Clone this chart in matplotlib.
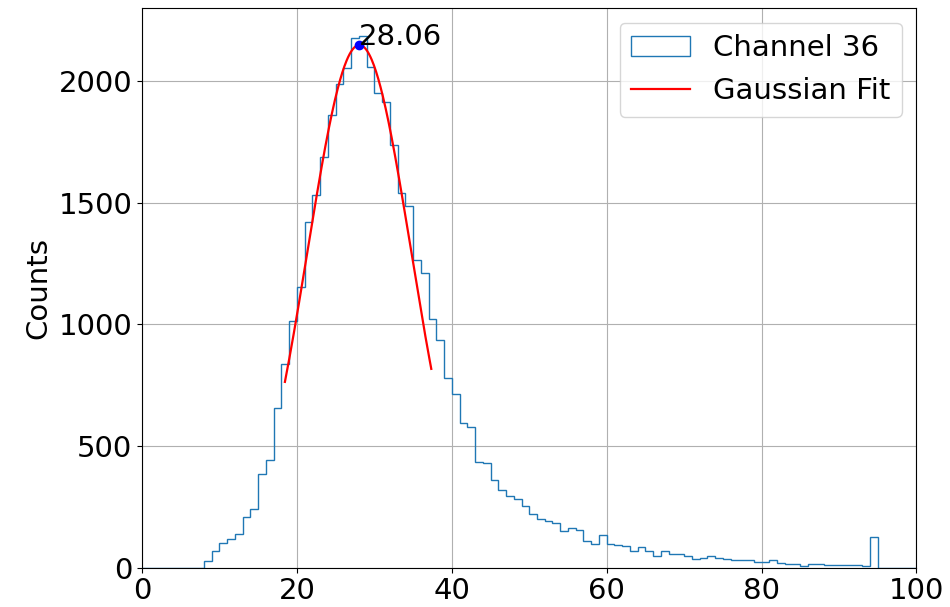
import numpy as np
import matplotlib
matplotlib.use("Agg")
import matplotlib.pyplot as plt

# histogram of channel 36, unit-width bins from 0 to 100
bin_edges = list(range(0, 101))
counts = [
    0, 0, 0, 0, 0, 0, 0, 0, 26, 68,
    100, 118, 137, 207, 242, 386, 443, 656, 838, 1012,
    1152, 1420, 1530, 1687, 1860, 1989, 2053, 2175, 2187, 2057,
    1950, 1915, 1736, 1541, 1487, 1263, 1209, 1021, 934, 780,
    712, 596, 577, 432, 428, 359, 318, 295, 281, 254,
    220, 199, 193, 184, 150, 161, 154, 111, 97, 134,
    96, 92, 90, 70, 86, 66, 48, 69, 56, 54,
    48, 37, 40, 48, 40, 36, 33, 30, 29, 23,
    23, 29, 18, 16, 14, 7, 16, 14, 12, 11,
    11, 10, 10, 8, 124, 0, 0, 0, 0, 0,
]

# gaussian fit parameters
fit_amp = 2148
fit_mu = 28.06
fit_sigma = 6.68
fit_lo = 18.45
fit_hi = 37.35

fig = plt.figure(figsize=(9.5, 6.07), dpi=100)
ax = fig.add_subplot(111)
fig.subplots_adjust(left=0.1495, right=0.9647, top=0.9868, bottom=0.065)

ax.hist(bin_edges[:-1], bins=bin_edges, weights=counts, histtype='step',
        linewidth=1.0, label='Channel 36')

xf = np.linspace(fit_lo, fit_hi, 200)
yf = fit_amp * np.exp(-(xf - fit_mu) ** 2 / (2 * fit_sigma ** 2))
ax.plot(xf, yf, 'r-', linewidth=1.6, label='Gaussian Fit')

ax.plot(fit_mu, fit_amp, 'bo', markersize=6)
ax.text(fit_mu, fit_amp, '%.2f' % fit_mu, fontsize=21)

ax.set_xlim(0, 100)
ax.set_ylim(0, 2300)
ax.set_xticks([0, 20, 40, 60, 80, 100])
ax.set_yticks([0, 500, 1000, 1500, 2000])
ax.tick_params(labelsize=21)
ax.set_ylabel('Counts', fontsize=21)
ax.grid(True)
ax.legend(loc='upper right', fontsize=21)

fig.savefig('out.png', dpi=100)
